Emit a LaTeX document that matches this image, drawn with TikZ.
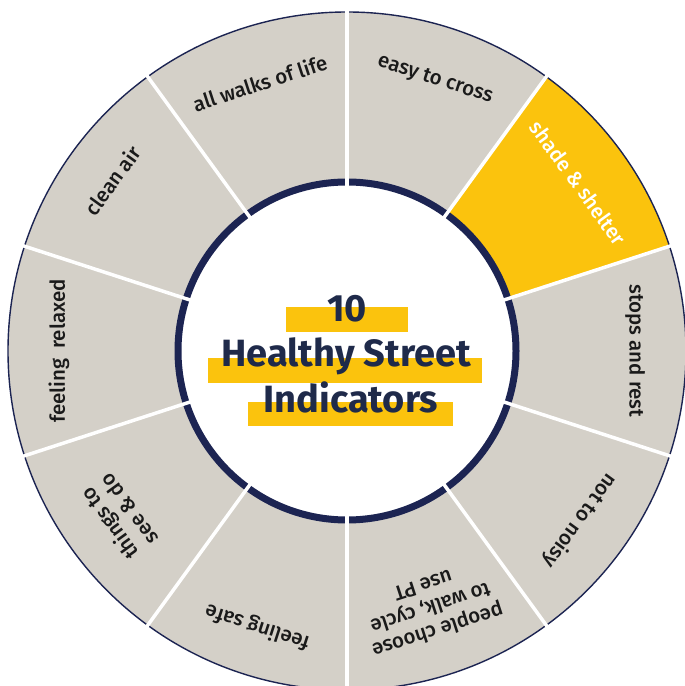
\documentclass[tikz,border=0pt]{standalone}
\usepackage{fontspec}
\setmainfont{Fira Sans}
\newfontfamily\labelfont{Fira Sans Medium}
\definecolor{segGray}{HTML}{D4D0C8}
\definecolor{segYellow}{HTML}{FBC30D}
\definecolor{navy}{HTML}{1C2452}
\definecolor{titleNavy}{HTML}{1F2A4A}
\definecolor{labelInk}{HTML}{1A1A1A}
\begin{document}
\begin{tikzpicture}[x=1bp,y=1bp,
  seglabel/.style={font=\labelfont\fontsize{20.5bp}{24bp}\selectfont, text=labelInk, align=center, inner sep=0pt},
  titletext/.style={font=\fontsize{38bp}{44bp}\selectfont\bfseries, text=titleNavy, inner sep=0pt, anchor=base},
  titlebar/.style={fill=segYellow},
  divider/.style={draw=white, line width=3.5bp}]
\useasboundingbox (0,0) rectangle (685,686);
\clip (0,0) rectangle (685,686);
\fill[white] (0,0) rectangle (685,686);
\begin{scope}[shift={(347,335)}]
  % outer disc
  \fill[segGray] (0,0) circle[radius=339];
  \fill[segYellow] (18:165) -- (18:339) arc[start angle=18, end angle=54, radius=339]
      -- (54:165) arc[start angle=54, end angle=18, radius=165] -- cycle;
  \draw[navy, line width=1.4bp] (0,0) circle[radius=339];
  % inner disc and ring
  \fill[white] (0,0) circle[radius=172];
  \draw[navy, line width=7bp] (0,0) circle[radius=169];
  % dividers
  \foreach \a in {90,54,18,-18,-54,-90,-126,-162,162,126}
    \draw[divider] (\a:160) -- (\a:345);
  % labels
  \node[seglabel, rotate=-18] (l1) at (72:285) {easy to cross};
  \node[seglabel, rotate=-54, text=white] (l2) at (36:286) {shade \& shelter};
  \node[seglabel, rotate=-90] (l3) at (0:288) {stops and rest};
  \node[seglabel, rotate=-126] (l4) at (-36:288) {not to noisy};
  \node[seglabel, rotate=-162] (l5) at (-72:271) {people choose\\to walk, cycle\\use PT};
  \node[seglabel, rotate=162] (l6) at (-108:290) {feeling safe};
  \node[seglabel, rotate=126] (l7) at (-144:282) {things to\\see \& do};
  \node[seglabel, rotate=90] (l8) at (180:288) {feeling\ \ relaxed};
  \node[seglabel, rotate=54] (l9) at (144:290) {clean air};
  \node[seglabel, rotate=18] (l10) at (108:282) {all walks of life};
\end{scope}
% title bars
\fill[titlebar] (286,354) rectangle (408,379);
\fill[titlebar] (208,303) rectangle (482,328);
\fill[titlebar] (248,260) rectangle (453,284);
% title text
\node[titletext] (t1) at (347,364) {10};
\node[titletext] (t2) at (346,319) {Healthy Street};
\node[titletext] (t3) at (351,273) {Indicators};
\end{tikzpicture}
\end{document}
